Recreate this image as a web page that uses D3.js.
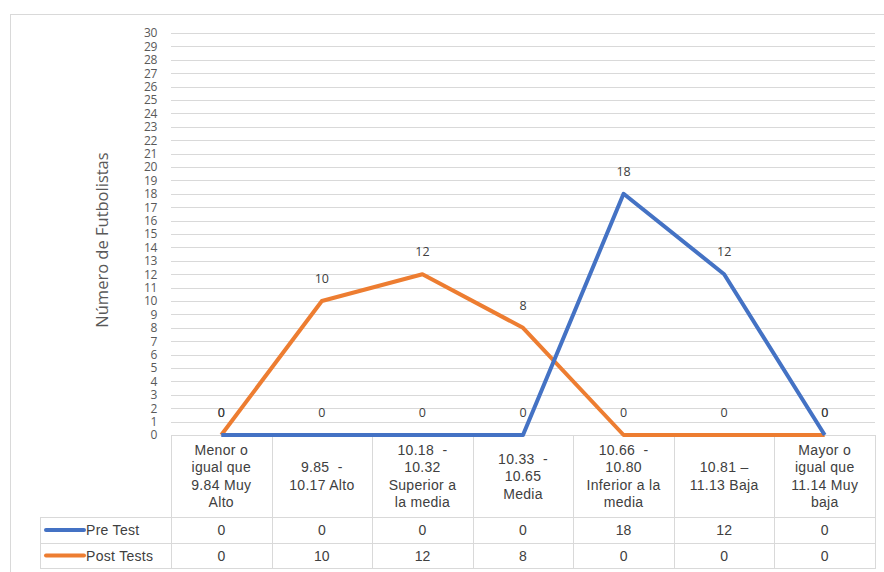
<!DOCTYPE html>
<html><head><meta charset="utf-8">
<script src="https://cdn.jsdelivr.net/npm/d3@7"></script>
<style>body{margin:0;background:#fff}svg{display:block}text{white-space:pre}</style>
</head><body>
<svg id="c" width="884" height="572"></svg>
<script>
const categories = [
  ["Menor o","igual que","9.84 Muy","Alto"],
  ["9.85  -","10.17 Alto"],
  ["10.18  -","10.32","Superior a","la media"],
  ["10.33  -","10.65","Media"],
  ["10.66  -","10.80","Inferior a la","media"],
  ["10.81 \u2013","11.13 Baja"],
  ["Mayor o","igual que","11.14 Muy","baja"]
];
const preTest = [0, 0, 0, 0, 18, 12, 0];
const postTests = [0, 10, 12, 8, 0, 0, 0];
const seriesNames = ["Pre Test", "Post Tests"];
const yTicks = d3.range(0, 31);
const yTitle = "Número de Futbolistas";

(function(){
const colors = ["#4472C4", "#ED7D31"];
const series = [preTest, postTests];
const svg = d3.select("#c");

svg.append("rect").attr("x",10.5).attr("y",14.5).attr("width",890).attr("height",570)
  .attr("fill","#fff").attr("stroke","#d9d9d9");

const pLeft = 171, pRight = 875, pTop = 33, pBottom = 435;
const x = d3.scaleBand().domain(d3.range(categories.length)).range([pLeft, pRight]);
const y = d3.scaleLinear().domain([0, 30]).range([pBottom, pTop]);

svg.append("g").selectAll("line").data(yTicks.filter(d=>d>0)).join("line")
  .attr("x1", pLeft).attr("x2", pRight)
  .attr("y1", d=>Math.round(y(d))+0.5).attr("y2", d=>Math.round(y(d))+0.5)
  .attr("stroke","#d9d9d9").attr("stroke-width",1);

const yAxis = d3.axisLeft(y).tickValues(yTicks).tickSize(0).tickPadding(0);
const ga = svg.append("g").attr("transform",`translate(157,0)`).call(yAxis);
ga.select(".domain").remove();
ga.selectAll("text").attr("fill","#595959").style("font-family","'Open Sans','DejaVu Sans',sans-serif")
  .style("font-size","12px").attr("letter-spacing","-0.4");

svg.append("text").attr("transform",`translate(108,240) rotate(-90)`)
  .attr("text-anchor","middle").attr("fill","#595959")
  .style("font-family","'Open Sans',sans-serif").style("font-size","16.5px").text(yTitle);

const rowH = [82, 26, 25];
const tTop = pBottom, legendLeft = 40;
const tg = svg.append("g");
const lineC = "#d9d9d9";
const tBottom = tTop + d3.sum(rowH);
d3.range(categories.length+1).forEach(i=>{
  const xx = Math.round(i<categories.length ? x(i) : pRight)+0.5;
  tg.append("line").attr("x1",xx).attr("x2",xx).attr("y1",tTop).attr("y2",tBottom).attr("stroke",lineC);
});
tg.append("line").attr("x1",legendLeft+0.5).attr("x2",legendLeft+0.5).attr("y1",tTop+rowH[0]).attr("y2",tBottom).attr("stroke",lineC);
let yy = tTop;
[0,1,2,3].forEach(i=>{
  const x1 = i===0 ? pLeft : legendLeft;
  tg.append("line").attr("x1",x1).attr("x2",pRight+1).attr("y1",Math.round(yy)+0.5).attr("y2",Math.round(yy)+0.5).attr("stroke",lineC);
  if (i<3) yy += rowH[i];
});

const tf = "'Liberation Sans',Arial,sans-serif";
categories.forEach((lines,i)=>{
  const cx = x(i) + x.bandwidth()/2;
  const lh = 17.5;
  const y0 = tTop + rowH[0]/2 - (lines.length-1)*lh/2 + 5;
  const t = tg.append("text").attr("text-anchor","middle").attr("fill","#404040")
    .style("font-family",tf).style("font-size","14px").attr("letter-spacing","0.3");
  lines.forEach((l,k)=>t.append("tspan").attr("x",cx).attr("y",y0+k*lh).text(l));
});
series.forEach((s,si)=>{
  const ry = tTop + rowH[0] + (si===0?0:rowH[1]);
  const cy = ry + rowH[si+1]/2 + 5;
  tg.append("line").attr("x1",46).attr("x2",84).attr("y1",cy-5).attr("y2",cy-5)
    .attr("stroke",colors[si]).attr("stroke-width",4).attr("stroke-linecap","round");
  tg.append("text").attr("x",86).attr("y",cy).attr("fill","#404040")
    .style("font-family",tf).style("font-size","14px").attr("letter-spacing","0.3").text(seriesNames[si]);
  s.forEach((v,i)=>{
    tg.append("text").attr("x",x(i)+x.bandwidth()/2).attr("y",cy).attr("text-anchor","middle")
      .attr("fill","#404040").style("font-family",tf).style("font-size","14px").text(v);
  });
});

const line = d3.line().x((d,i)=>x(i)+x.bandwidth()/2).y(d=>y(d));
[1,0].forEach(si=>{
  svg.append("path").datum(series[si]).attr("d",line).attr("fill","none")
    .attr("stroke",colors[si]).attr("stroke-width",4).attr("stroke-linejoin","round");
});
series.forEach((s,si)=>{
  svg.append("g").selectAll("text").data(s).join("text")
    .attr("x",(d,i)=>x(i)+x.bandwidth()/2).attr("y",d=>y(d)-18)
    .attr("text-anchor","middle").attr("fill","#404040")
    .style("font-family","'Open Sans',sans-serif").style("font-size","12.5px").text(d=>d);
});
})();
</script>
</body></html>
